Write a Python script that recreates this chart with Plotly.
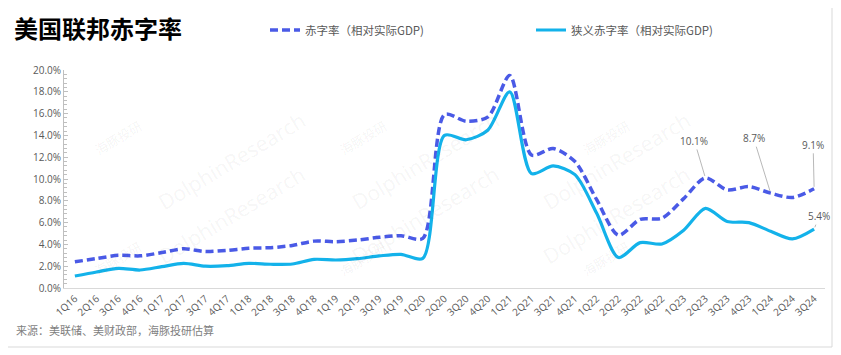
import plotly.graph_objects as go

quarters = ["1Q16","2Q16","3Q16","4Q16","1Q17","2Q17","3Q17","4Q17","1Q18","2Q18","3Q18","4Q18",
            "1Q19","2Q19","3Q19","4Q19","1Q20","2Q20","3Q20","4Q20","1Q21","2Q21","3Q21","4Q21",
            "1Q22","2Q22","3Q22","4Q22","1Q23","2Q23","3Q23","4Q23","1Q24","2Q24","3Q24"]

deficit_ratio = [2.4, 2.7, 3.0, 2.95, 3.25, 3.6, 3.35, 3.45, 3.65, 3.7, 3.9, 4.3,
                 4.25, 4.4, 4.65, 4.8, 4.55, 15.9, 15.3, 15.7, 19.5, 12.2, 12.8, 11.6,
                 8.1, 4.85, 6.3, 6.4, 8.2, 10.1, 9.0, 9.3, 8.7, 8.3, 9.1]

narrow_ratio = [1.1, 1.47, 1.8, 1.65, 1.96, 2.26, 2.0, 2.05, 2.26, 2.18, 2.2, 2.63,
                2.57, 2.69, 2.94, 3.09, 2.72, 14.0, 13.6, 14.5, 18.0, 10.5, 11.2, 10.4,
                6.85, 2.8, 4.16, 4.04, 5.3, 7.3, 6.1, 6.0, 5.2, 4.5, 5.4]

name1 = "赤字率（相对实际GDP)"
name2 = "狭义赤字率（相对实际GDP)"
title_text = "美国联邦赤字率"
source_text = "来源：美联储、美财政部，海豚投研估算"

CJK = "Noto Sans CJK SC"

fig = go.Figure()
fig.add_trace(go.Scatter(x=quarters, y=deficit_ratio, name=name1, mode="lines",
                         line=dict(color="#4a5ae6", width=3.5, dash="8px,4px", shape="spline", smoothing=0.8)))
fig.add_trace(go.Scatter(x=quarters, y=narrow_ratio, name=name2, mode="lines",
                         line=dict(color="#13b2ea", width=3.2, shape="spline", smoothing=0.8)))

# page has an 8px body margin; work in page coordinates and convert
OFF = 8
PW, PH = 841, 355
W, H = PW - OFF, PH - OFF
L, R, T, B = 64 - OFF, 825 - OFF, 70 - OFF, 288 - OFF
pw, ph = R - L, B - T

def px(x):
    return (x - OFF - L) / pw

def py(y):
    return (B - (y - OFF)) / ph

# watermarks
wm = []
for cx in [150, 425, 698]:
    for cy in [103, 273]:
        wm.append(dict(x=px(cx), y=py(cy), xref="paper", yref="paper", text="DolphinResearch",
                       showarrow=False, textangle=-31, font=dict(family="Open Sans", size=21, color="rgba(0,0,0,0.055)")))
        wm.append(dict(x=px(cx - 62), y=py(cy + 10), xref="paper", yref="paper", text="海豚投研",
                       showarrow=False, textangle=-31, font=dict(family=CJK, size=13, color="rgba(0,0,0,0.055)")))

ann_font = dict(family="Open Sans", size=10, color="#595959")
labels = [
    dict(x="2Q23", y=10.1, text="10.1%", ax=-11, ay=-37),
    dict(x="1Q24", y=8.7, text="8.7%", ax=-17, ay=-55),
    dict(x="3Q24", y=9.1, text="9.1%", ax=-1, ay=-44),
    dict(x="3Q24", y=5.4, text="5.4%", ax=5, ay=-13),
]
anns = []
for a in labels:
    anns.append(dict(x=a["x"], y=a["y"], xref="x", yref="y", text=a["text"], showarrow=True,
                     arrowhead=0, arrowwidth=0.8, arrowcolor="#a6a6a6", ax=a["ax"], ay=a["ay"],
                     font=ann_font, standoff=2))

anns.append(dict(x=px(14), y=py(330), xref="paper", yref="paper", text=source_text, showarrow=False,
                 xanchor="left", yanchor="middle", font=dict(family=CJK, size=11, color="#7f7f7f")))

fig.update_layout(
    width=W, height=H,
    margin=dict(l=L, r=W - R, t=T, b=H - B, autoexpand=False),
    paper_bgcolor="white", plot_bgcolor="white",
    title=dict(text=title_text, xref="container", yref="container", x=(14 - OFF) / W, y=1 - (30 - OFF) / H,
               xanchor="left", yanchor="middle",
               font=dict(family=CJK, size=24, color="#000000", weight="bold")),
    legend=dict(orientation="h", xref="container", yref="container", x=(265 - OFF) / W, y=1 - (30 - OFF) / H,
                xanchor="left", yanchor="middle", entrywidth=221, entrywidthmode="pixels",
                font=dict(family=CJK, size=11.5, color="#595959"), bgcolor="rgba(0,0,0,0)", itemwidth=30),
    annotations=wm + anns,
    shapes=[dict(type="rect", xref="paper", yref="paper", x0=px(5), x1=px(832), y0=py(347), y1=py(7),
                 line=dict(color="#d9d9d9", width=1), layer="below")],
)

fig.update_xaxes(type="category", showline=True, linecolor="#d9d9d9", linewidth=1, showgrid=False,
                 ticks="", tickangle=-42, tickfont=dict(family="Open Sans", size=10, color="#595959"),
                 range=[-0.5, len(quarters) - 0.5], automargin=False)
fig.update_yaxes(range=[0, 20], dtick=2, tickformat=".1f", ticksuffix="%", showline=True,
                 linecolor="#bfbfbf", linewidth=1, showgrid=False, zeroline=False,
                 ticks="inside", ticklen=4, tickcolor="#bfbfbf",
                 minor=dict(dtick=0.4, ticks="inside", ticklen=3, tickcolor="#bfbfbf"),
                 tickfont=dict(family="Open Sans", size=10, color="#595959"), automargin=False)

fig.write_html("out.html")
